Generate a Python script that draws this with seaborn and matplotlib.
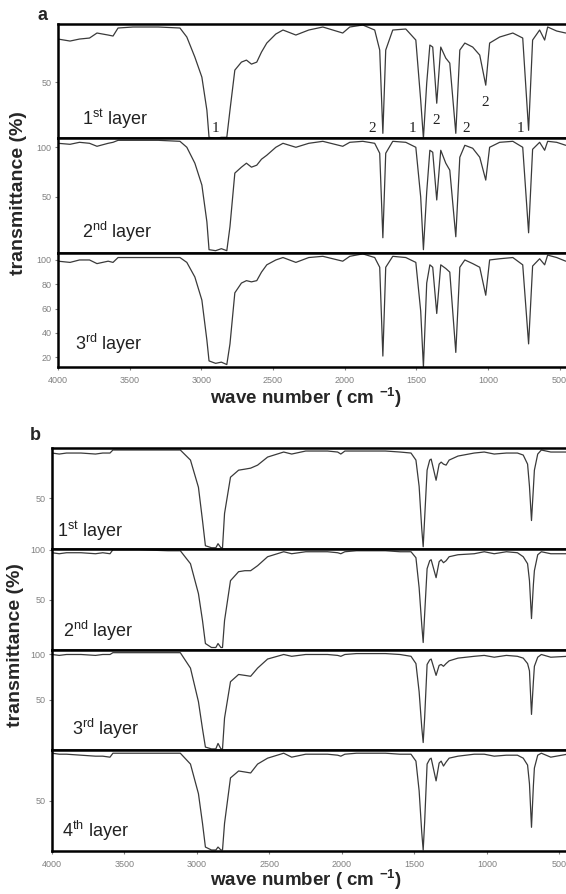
import numpy as np
import pandas as pd
import matplotlib
matplotlib.use("Agg")
import matplotlib.pyplot as plt
import seaborn as sns

# ---------------- data ----------------
WN_A = [4000, 3916, 3850, 3780, 3728, 3650, 3616, 3581, 3477, 3300, 3149, 3101,
        3045, 2996, 2961, 2946, 2900, 2860, 2822, 2800, 2766, 2720, 2685, 2650,
        2613, 2580, 2543, 2480, 2430, 2340, 2250, 2152, 2013, 1964, 1873, 1790,
        1755, 1733, 1713, 1664, 1573, 1503, 1469, 1450, 1427, 1405, 1385, 1357,
        1329, 1294, 1266, 1224, 1196, 1161, 1106, 1057, 1015, 988, 918, 826,
        757, 716, 688, 639, 604, 583, 520, 457]

A_LAYER1 = [93, 91, 93, 94, 99, 97, 96, 104, 105, 105, 104, 95,
            75, 55, 22, -5, -6, -5, -5, 22, 62, 70, 72, 68,
            70, 80, 89, 98, 102, 97, 102, 105, 99, 105, 107, 102,
            82, -1, 82, 102, 103, 92, 32, -6, 49, 87, 85, 29,
            85, 74, 69, -1, 82, 89, 85, 77, 47, 89, 95, 99,
            94, 2, 92, 102, 92, 105, 101, 99]

A_LAYER2 = [104, 103, 105, 104, 101, 104, 105, 107, 107, 107, 106, 100,
            84, 62, 25, -3, -4, -2, -4, 20, 74, 80, 84, 80,
            82, 88, 92, 100, 104, 100, 104, 106, 101, 105, 106, 104,
            94, 9, 94, 106, 105, 100, 50, -3, 55, 97, 95, 47,
            97, 84, 77, 10, 90, 102, 99, 90, 67, 100, 105, 106,
            100, 14, 98, 105, 97, 106, 105, 102]

A_LAYER3 = [99, 98, 100, 100, 97, 99, 98, 102, 102, 102, 102, 98,
            86, 67, 34, 17, 15, 16, 14, 31, 73, 81, 83, 82,
            83, 90, 96, 100, 102, 98, 102, 103, 99, 103, 105, 102,
            94, 21, 94, 103, 102, 98, 58, 12, 81, 96, 94, 56,
            96, 93, 90, 24, 94, 100, 97, 94, 71, 100, 101, 102,
            96, 31, 95, 101, 96, 104, 102, 99]

WN_B = [4000, 3950, 3900, 3800, 3700, 3650, 3600, 3580, 3400, 3200, 3115, 3045,
        2990, 2962, 2942, 2900, 2870, 2855, 2835, 2824, 2810, 2769, 2713, 2670,
        2630, 2582, 2513, 2402, 2347, 2250, 2100, 2030, 2008, 1980, 1900, 1700,
        1600, 1524, 1490, 1468, 1450, 1440, 1430, 1413, 1395, 1385, 1351, 1330,
        1316, 1300, 1282, 1261, 1200, 1088, 1019, 950, 866, 790, 750, 720,
        707, 693, 680, 673, 650, 625, 560, 445]

B_LAYER1 = [95, 94, 95, 95, 94, 95, 95, 98, 98, 98, 98, 88,
            61, 28, 3, 1, 1, 5, 1, 1, 35, 71, 78, 79,
            80, 83, 91, 96, 94, 97, 97, 96, 94, 97, 97, 97,
            96, 95, 88, 62, 20, 2, 30, 78, 88, 89, 68, 84,
            86, 84, 83, 88, 92, 95, 96, 94, 95, 95, 93, 84,
            62, 28, 60, 78, 94, 98, 96, 96]

B_LAYER2 = [97, 96, 97, 97, 96, 97, 96, 100, 100, 99, 99, 86,
            56, 29, 6, 2, 2, 6, 2, 2, 29, 69, 78, 79,
            79, 84, 93, 98, 96, 98, 98, 97, 96, 98, 99, 99,
            98, 98, 92, 62, 25, 7, 35, 81, 89, 90, 72, 88,
            90, 87, 89, 93, 95, 96, 98, 96, 98, 97, 93, 86,
            69, 31, 65, 79, 95, 98, 96, 96]

B_LAYER3 = [100, 99, 100, 100, 99, 100, 100, 102, 102, 102, 102, 85,
            48, 18, -2, -4, -4, 2, -4, -4, 30, 70, 78, 77,
            76, 85, 95, 100, 98, 100, 100, 99, 98, 100, 101, 101,
            100, 98, 90, 59, 20, 3, 30, 89, 94, 95, 77, 88,
            89, 87, 90, 93, 96, 98, 99, 97, 99, 98, 96, 90,
            82, 34, 70, 87, 97, 100, 97, 98]

B_LAYER4 = [98, 97, 97, 96, 95, 95, 94, 98, 98, 98, 98, 87,
            57, 27, 3, 0, 0, 3, 0, 0, 27, 73, 80, 79,
            78, 87, 93, 98, 94, 97, 97, 96, 95, 97, 98, 98,
            97, 97, 90, 60, 18, 0, 28, 87, 92, 93, 70, 88,
            90, 85, 89, 93, 95, 97, 97, 95, 96, 96, 93, 86,
            67, 23, 65, 83, 96, 98, 94, 97]

LAYER_LABELS_A = [r"1$^{\rm st}$ layer", r"2$^{\rm nd}$ layer", r"3$^{\rm rd}$ layer"]
LAYER_LABELS_B = [r"1$^{\rm st}$ layer", r"2$^{\rm nd}$ layer", r"3$^{\rm rd}$ layer",
                  r"4$^{\rm th}$ layer"]

# band assignments on the 1st layer of panel a: (wavenumber, transmittance, label)
BAND_WN = [2898, 1810, 1524, 1364, 1155, 1016, 771]
BAND_T = [4, 4, 4, 12, 4, 30, 4]
BAND_LBL = ["1", "2", "1", "2", "2", "2", "1"]

X_TICKS = [4000, 3500, 3000, 2500, 2000, 1500, 1000, 500]

# ---------------- styling ----------------
sns.set_theme(style="white")
plt.rcParams["font.family"] = ["Liberation Sans", "DejaVu Sans"]
plt.rcParams["mathtext.fontset"] = "custom"
plt.rcParams["mathtext.rm"] = "Liberation Sans"
plt.rcParams["mathtext.bf"] = "Liberation Sans:bold"

LINE_C = "#3a3a3a"
TICK_C = "#808080"

W, H = 566, 894
fig = plt.figure(figsize=(W / 100, H / 100), dpi=100)


def fx(px):
    return px / W


def fy(py):
    return 1 - py / H


def make_panel(left_px, top_px, bottom_px, n):
    gs = fig.add_gridspec(n, 1, left=fx(left_px), right=1.0,
                          top=fy(top_px), bottom=fy(bottom_px), hspace=0)
    return [fig.add_subplot(gs[i, 0]) for i in range(n)]


def style_ax(ax, ylim, yticks, last):
    ax.set_xlim(4000, 455)
    ax.set_ylim(*ylim)
    ax.set_yticks(yticks)
    ax.set_yticklabels([str(t) for t in yticks])
    ax.set_xticks(X_TICKS)
    if last:
        ax.set_xticklabels([str(t) for t in X_TICKS])
    else:
        ax.set_xticklabels([])
    ax.tick_params(axis="both", which="both", direction="out", length=2.5,
                   width=0.8, colors=TICK_C, labelsize=6.5, pad=2,
                   left=True, bottom=last)
    ax.tick_params(axis="x", pad=4)
    for s in ["left", "top", "bottom"]:
        ax.spines[s].set_visible(True)
        ax.spines[s].set_color("black")
        ax.spines[s].set_linewidth(1.8)
    ax.spines["right"].set_visible(False)
    ax.set_xlabel("")
    ax.set_ylabel("")
    ax.set_facecolor("white")


def draw(ax, wn, vals):
    df = pd.DataFrame({"wn": wn, "T": vals})
    sns.lineplot(data=df, x="wn", y="T", ax=ax, color=LINE_C, lw=0.9,
                 estimator=None, sort=False, legend=False)


# ---------------- panel a ----------------
axes_a = make_panel(58, 24, 367, 3)
ylims_a = [(-6, 108), (-6, 109), (12, 106)]
yt_a = [[50], [50, 100], [20, 40, 60, 80, 100]]
data_a = [A_LAYER1, A_LAYER2, A_LAYER3]
lab_pos_a = [(82, 125), (82, 238), (75, 350)]
for i, ax in enumerate(axes_a):
    draw(ax, WN_A, data_a[i])
    style_ax(ax, ylims_a[i], yt_a[i], i == 2)
    fig.text(fx(lab_pos_a[i][0]), fy(lab_pos_a[i][1]), LAYER_LABELS_A[i],
             fontsize=13, ha="left", va="baseline", color="#222222")

for w, t, s in zip(BAND_WN, BAND_T, BAND_LBL):
    axes_a[0].text(w, t, s, fontsize=11, family="Liberation Serif",
                   ha="center", va="center", color="#222222")

fig.text(fx(42), fy(15), "a", fontsize=13, fontweight="bold", ha="center", va="center")
fig.text(fx(306), fy(398), r"wave number ( cm $^{\mathbf{-1}}$)", fontsize=13.5,
         fontweight="bold", ha="center", va="center")
fig.text(fx(19), fy(193), "transmittance (%)", fontsize=14, fontweight="bold",
         rotation=90, ha="center", va="center")

# ---------------- panel b ----------------
axes_b = make_panel(52, 448, 851, 4)
ylims_b = [(0, 100), (0, 101), (-5.5, 105.5), (-1, 101)]
yt_b = [[50], [50, 100], [50, 100], [50]]
data_b = [B_LAYER1, B_LAYER2, B_LAYER3, B_LAYER4]
lab_pos_b = [(57, 537), (63, 637), (72, 735), (62, 837)]
for i, ax in enumerate(axes_b):
    draw(ax, WN_B, data_b[i])
    style_ax(ax, ylims_b[i], yt_b[i], i == 3)
    fig.text(fx(lab_pos_b[i][0]), fy(lab_pos_b[i][1]), LAYER_LABELS_B[i],
             fontsize=13, ha="left", va="baseline", color="#222222")

fig.text(fx(35), fy(435), "b", fontsize=13, fontweight="bold", ha="center", va="center")
fig.text(fx(306), fy(880), r"wave number ( cm $^{\mathbf{-1}}$)", fontsize=13.5,
         fontweight="bold", ha="center", va="center")
fig.text(fx(16), fy(645), "transmittance (%)", fontsize=14, fontweight="bold",
         rotation=90, ha="center", va="center")

fig.savefig("out.png", dpi=100, facecolor="white")
